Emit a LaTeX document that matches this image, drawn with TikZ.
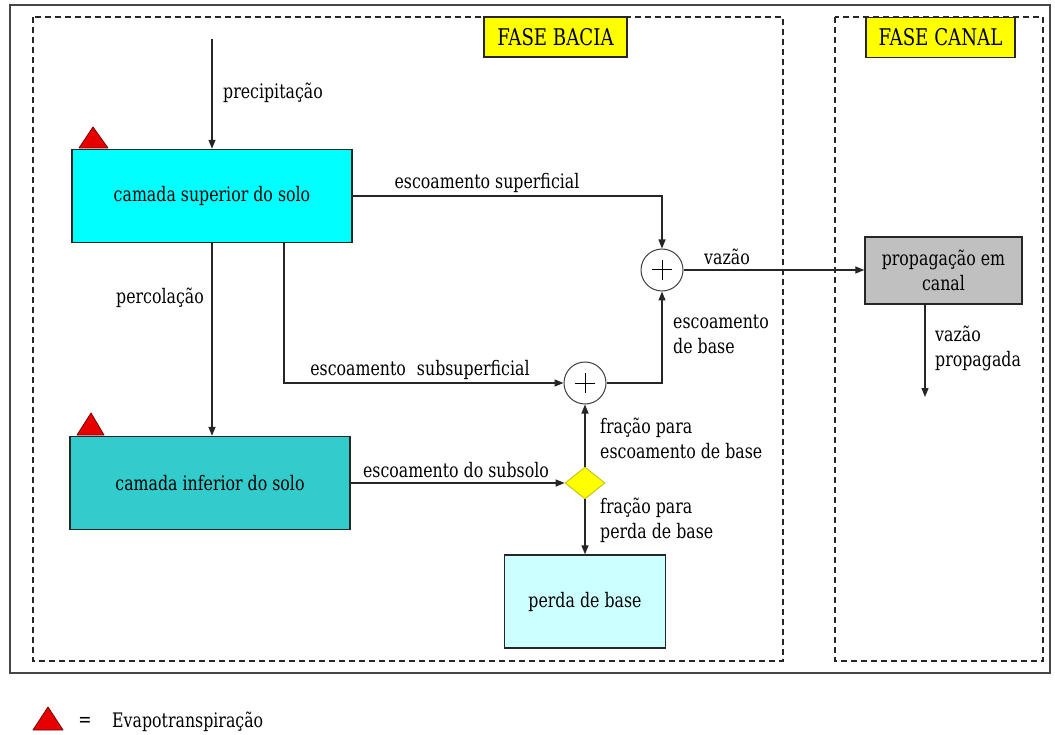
\documentclass[tikz,border=0pt]{standalone}
\usepackage{fontspec}
\newfontfamily\tnr[FakeStretch=0.79]{DejaVu Serif}
\usetikzlibrary{arrows.meta,shapes.geometric}
\definecolor{cyanbox}{RGB}{0,255,255}
\definecolor{tealbox}{RGB}{51,204,204}
\definecolor{palebox}{RGB}{204,255,255}
\definecolor{graybox}{RGB}{192,192,192}
\definecolor{yel}{RGB}{255,255,0}
\definecolor{framegray}{RGB}{70,70,70}
\definecolor{tri}{RGB}{230,0,0}
\definecolor{tridark}{RGB}{120,0,0}
\tikzset{
  every node/.style={font=\tnr\fontsize{20}{25}\selectfont, inner sep=0pt},
  box/.style={draw=black!85, line width=1.4pt, rectangle, minimum width=280pt, minimum height=93pt, align=center},
  tag/.style={draw=black!85, line width=1.4pt, fill=yel, rectangle, minimum height=40pt, font=\tnr\fontsize{23}{25}\selectfont},
  zone/.style={draw=black!85, line width=1.3pt, dash pattern=on 6pt off 4pt},
  summ/.style={draw=black!75, line width=1pt, fill=white, circle, minimum size=42pt},
  plus/.style={draw=black, line width=1pt},
  arr/.style={draw=black!85, line width=1.3pt, -{Triangle[length=9pt,width=7pt]}},
  lbl/.style={anchor=center},
  lbll/.style={anchor=west, align=left},
  evap/.style={fill=tri, draw=tridark, line width=0.8pt, line join=round}
}
\begin{document}
\begin{tikzpicture}[x=1pt,y=-1pt]
\useasboundingbox (0,0) rectangle (1055,735);
\fill[white] (0,0) rectangle (1055,735);
% frames
\draw[draw=framegray, line width=1.8pt] (10,5) rectangle (1050,673);
\draw[zone] (33,17) rectangle (783,661);
\draw[zone] (835,17) rectangle (1043,661);
\node[tag, minimum width=143pt] (fb) at (555.5,37) {FASE BACIA};
\node[tag, minimum width=149pt] (fc) at (940.5,37.5) {FASE CANAL};
% boxes
\node[box, fill=cyanbox] (sup) at (212,196) {camada superior do solo};
\node[box, fill=tealbox] (inf) at (210,483) {camada inferior do solo};
\node[box, fill=palebox, minimum width=161pt] (perda) at (585,601.5) {perda de base};
\node[box, fill=graybox, minimum width=157pt, minimum height=67pt] (prop) at (943.5,270.5) {propagação em\\canal};
\node[summ] (c1) at (662,270) {};
\node[summ] (c2) at (585,383) {};
\draw[plus] ([xshift=-10pt]c1.center) -- ([xshift=10pt]c1.center) ([yshift=-10pt]c1.center) -- ([yshift=10pt]c1.center);
\draw[plus] ([xshift=-10pt]c2.center) -- ([xshift=10pt]c2.center) ([yshift=-10pt]c2.center) -- ([yshift=10pt]c2.center);
\node[diamond, draw=yel!75!black, line width=0.8pt, fill=yel, minimum width=40pt, minimum height=32pt, inner sep=0pt] (dia) at (585,483) {};
% evapotranspiration triangles
\draw[evap] (79,148) -- (93,127) -- (108,148) -- cycle;
\draw[evap] (77,435) -- (91,413) -- (104,435) -- cycle;
% connectors
\coordinate (pstart) at (212,39);
\draw[arr] (pstart) -- (sup.north);
\node[lbll] (lprec) at (223,93) {precipitação};
\draw[arr] (sup.east) -| (c1);
\node[lbl] (lsup) at (487,183) {escoamento superficial};
\draw[arr] (c1) -- (c1 -| prop.west);
\node[lbl] (lvaz) at (727,257) {vazão};
\coordinate (vpend) at (925,397);
\draw[arr] (prop.south -| vpend) -- (vpend);
\node[lbll] (lvp) at (935,348) {vazão\\propagada};
\draw[arr] (sup.south) -- (sup.south |- inf.north);
\node[lbl] (lperc) at (160,298) {percolação};
\coordinate (sb) at (284,383);
\draw[arr] (sup.south -| sb) |- (c2);
\node[lbl] (lsubs) at (420,370) {escoamento\hspace{0.3em} subsuperficial};
\draw[arr] (c2) -| (c1);
\node[lbll] (lbase) at (673,334) {escoamento\\de base};
\draw[arr] (inf.east) -- (dia.west);
\node[lbl] (lsubsolo) at (456,470) {escoamento do subsolo};
\draw[arr] (dia.north) -- (c2.south);
\node[lbll] (lfr1) at (600,438) {fração para\\escoamento de base};
\draw[arr] (dia.south) -- (perda.north);
\node[lbll] (lfr2) at (600,520) {fração para\\perda de base};
% legend
\draw[evap] (33,730) -- (48,707) -- (63,730) -- cycle;
\node[lbl] (leq) at (85,722) {=};
\node[lbll] (lev) at (112,722) {Evapotranspiração};
\end{tikzpicture}
\end{document}
